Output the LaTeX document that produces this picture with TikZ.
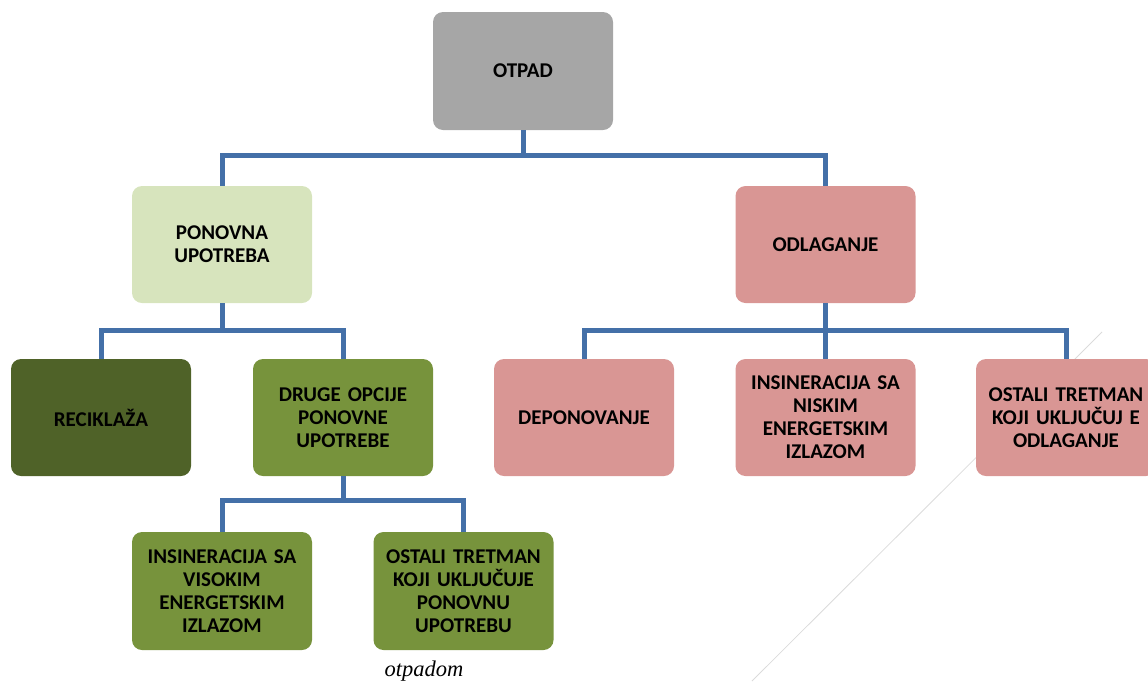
\documentclass[tikz,border=0pt]{standalone}
\usepackage{fontspec}
\setmainfont{Carlito}
\newfontfamily\captionserif{Liberation Serif}
\definecolor{boxgray}{HTML}{A6A6A6}
\definecolor{lightgreen}{HTML}{D7E4BD}
\definecolor{pinkbox}{HTML}{D99694}
\definecolor{darkolive}{HTML}{4F6228}
\definecolor{olive}{HTML}{77933C}
\definecolor{connblue}{HTML}{4470A8}
\tikzset{
  box/.style={rectangle, rounded corners=10pt, draw=none, minimum width=180pt, minimum height=117pt,
    text width=178pt, align=center, inner sep=0pt,
    font=\fontsize{21}{23}\selectfont\bfseries, text=black},
  conn/.style={draw=connblue, line width=5pt},
  faint/.style={draw=black!14, line width=0.8pt}
}
\begin{document}
\begin{tikzpicture}[x=1pt,y=-1pt]
\useasboundingbox (0,0) rectangle (1148,681);
\coordinate (d1) at (1102,332);
\coordinate (d2) at (752,681);
\draw[faint] (d1) -- (d2);

\node[box, fill=boxgray, minimum height=118pt] (otpad) at (523,71) {OTPAD};
\node[box, fill=lightgreen] (ponovna) at (222,244.5) {PONOVNA\\UPOTREBA};
\node[box, fill=pinkbox] (odlaganje) at (825.5,244.5) {ODLAGANJE};
\node[box, fill=darkolive] (reciklaza) at (101,417.5) {RECIKLAŽA};
\node[box, fill=olive] (druge) at (343,417.5) {DRUGE OPCIJE\\PONOVNE\\UPOTREBE};
\node[box, fill=pinkbox] (deponovanje) at (584,417.5) {DEPONOVANJE};
\node[box, fill=pinkbox] (niskim) at (825.5,417.5) {INSINERACIJA SA\\NISKIM\\ENERGETSKIM\\IZLAZOM};
\node[box, fill=pinkbox] (ostalione) at (1066,417.5) {OSTALI TRETMAN\\KOJI UKLJUČUJ E\\ODLAGANJE};
\node[box, fill=olive, minimum height=118pt] (visokim) at (222,591) {INSINERACIJA SA\\VISOKIM\\ENERGETSKIM\\IZLAZOM};
\node[box, fill=olive, minimum height=118pt] (ostalitwo) at (463.5,591) {OSTALI TRETMAN\\KOJI UKLJUČUJE\\PONOVNU\\UPOTREBU};

\draw[conn] (otpad.south) -- ++(0,25) -| (ponovna.north);
\draw[conn] (otpad.south) -- ++(0,25) -| (odlaganje.north);
\draw[conn] (ponovna.south) -- ++(0,27) -| (reciklaza.north);
\draw[conn] (ponovna.south) -- ++(0,27) -| (druge.north);
\draw[conn] (odlaganje.south) -- ++(0,27) -| (deponovanje.north);
\draw[conn] (odlaganje.south) -- ++(0,27) -| (niskim.north);
\draw[conn] (odlaganje.south) -- ++(0,27) -| (ostalione.north);
\draw[conn] (druge.south) -- ++(0,24) -| (visokim.north);
\draw[conn] (druge.south) -- ++(0,24) -| (ostalitwo.north);

\node[font=\captionserif\itshape\fontsize{22.5}{25}\selectfont, inner sep=0pt, anchor=base] (caption) at (424,676) {otpadom};
\end{tikzpicture}
\end{document}
